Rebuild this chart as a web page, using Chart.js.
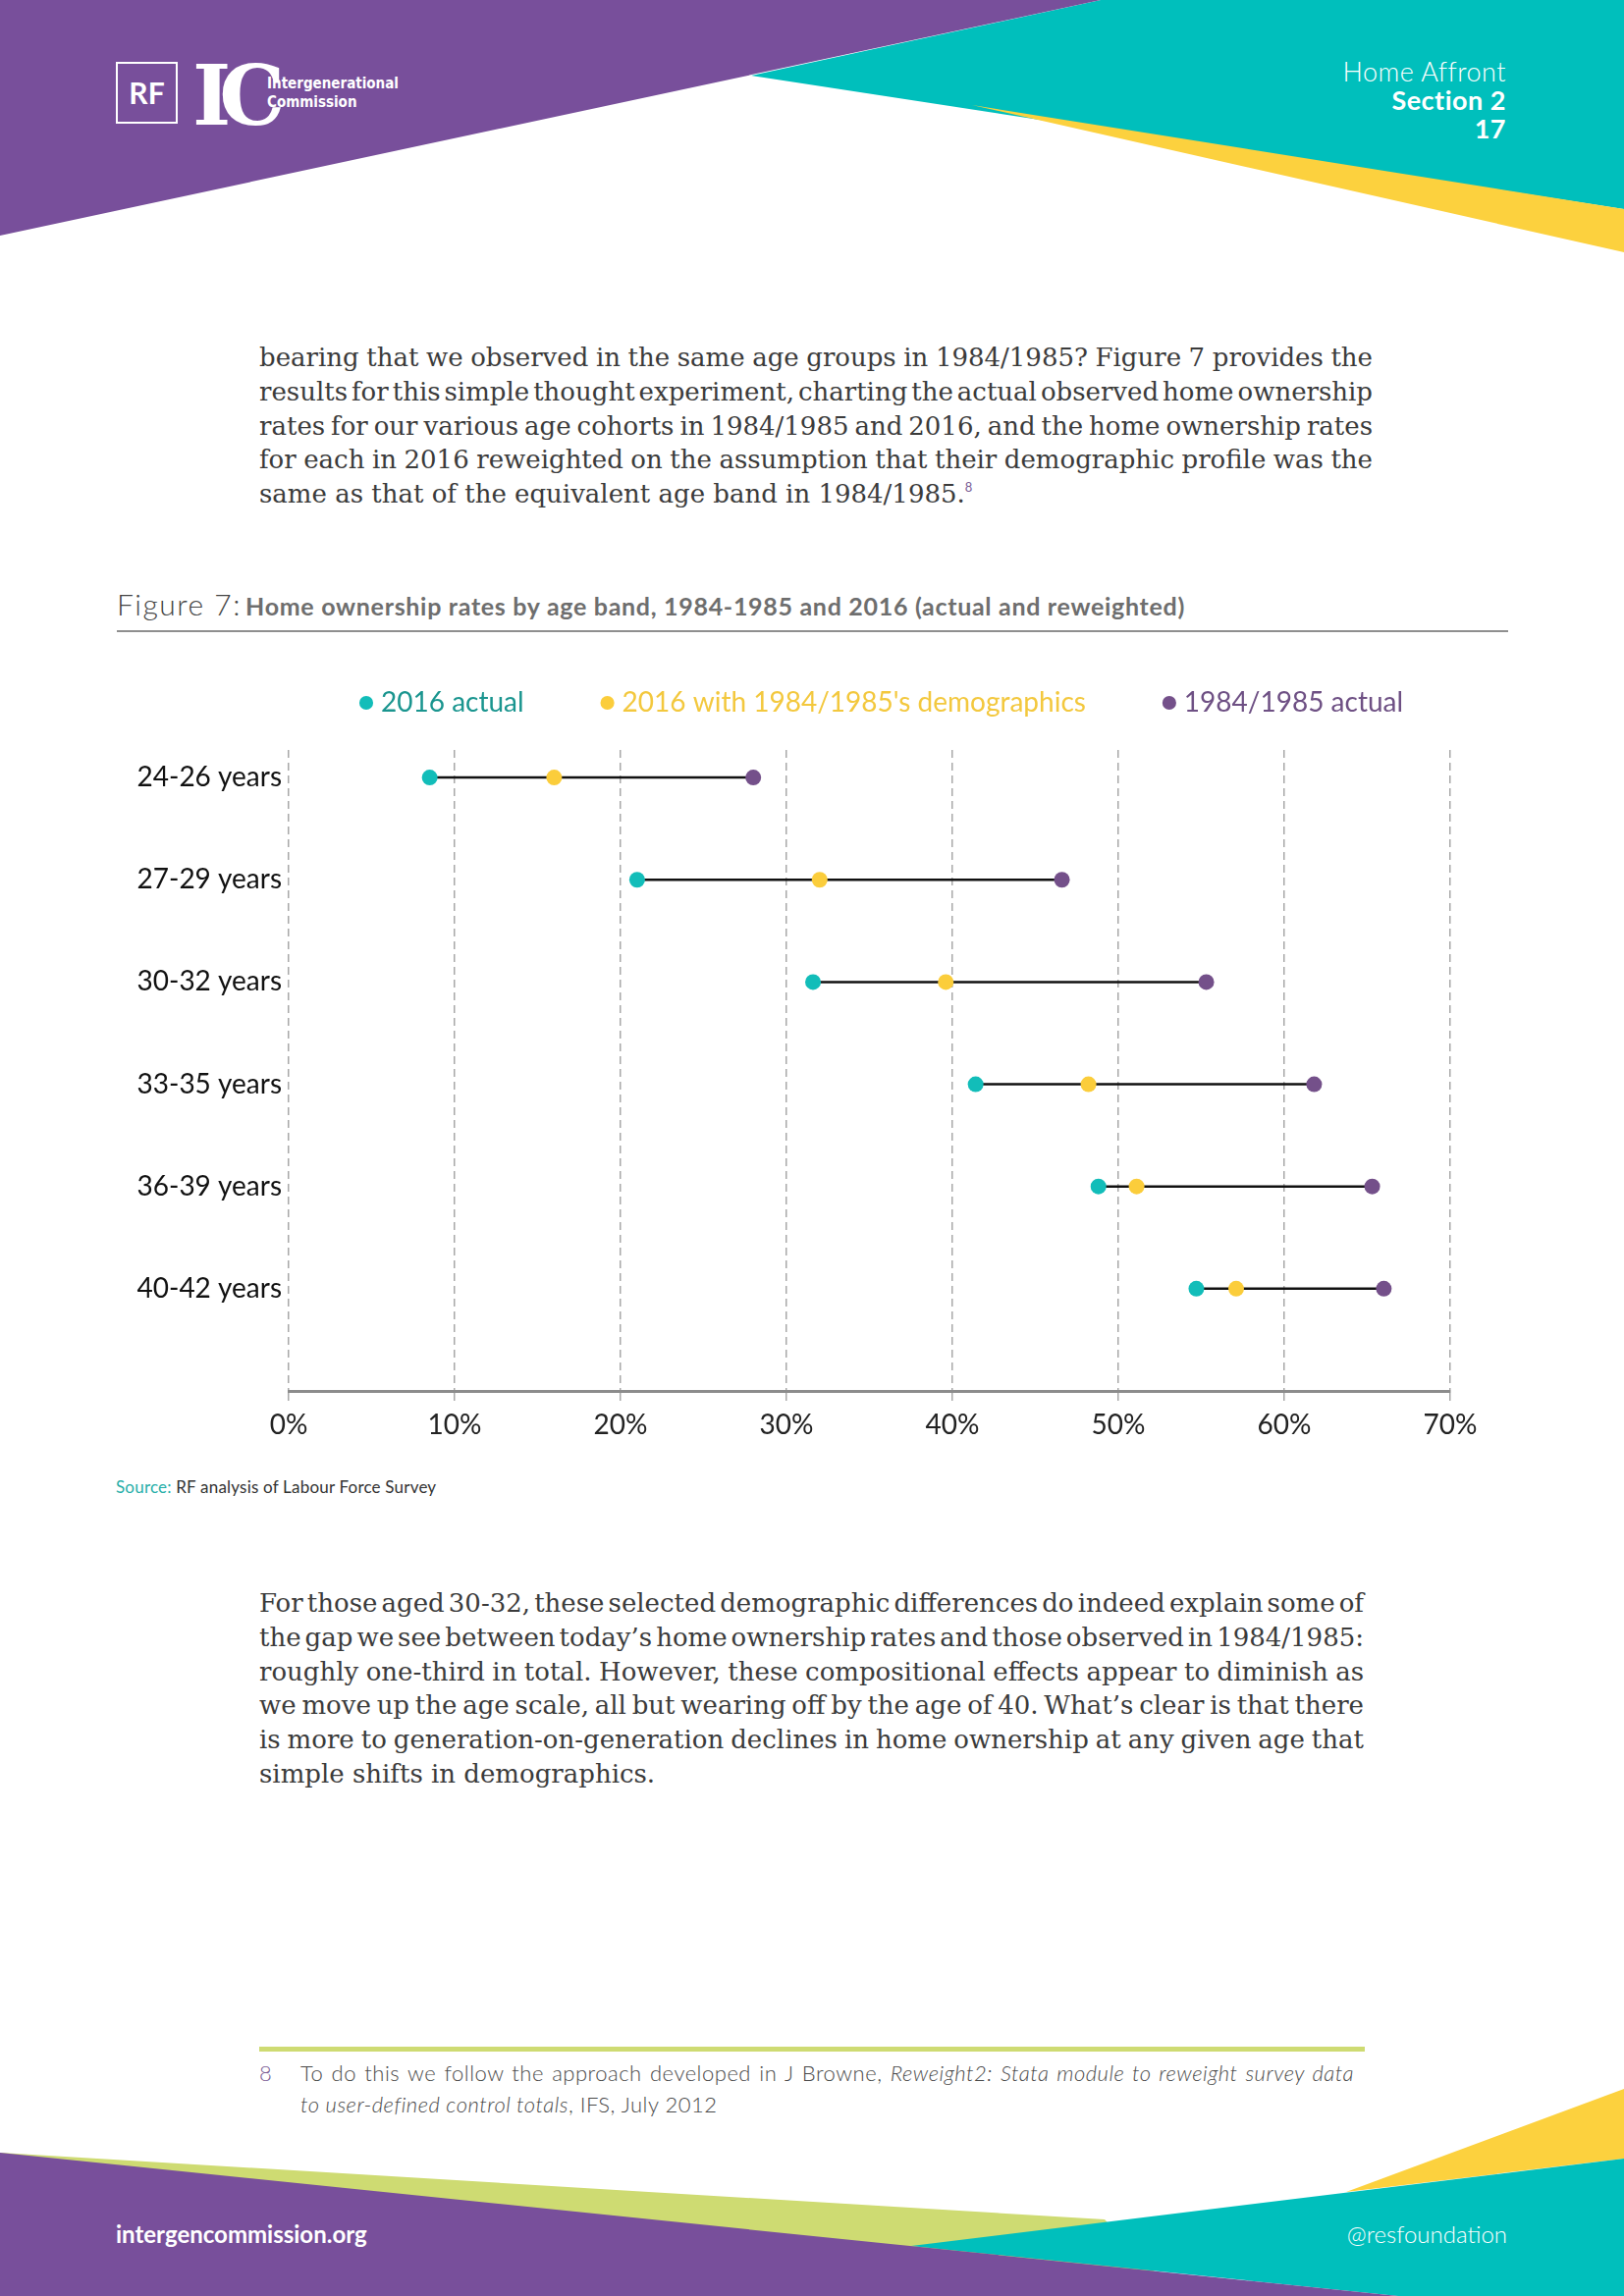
<!DOCTYPE html>
<html lang="en">
<head>
<meta charset="UTF-8">
<title>Home Affront - Figure 7</title>
<script src="https://cdn.jsdelivr.net/npm/chart.js"></script>
<style>
  html, body { margin: 0; padding: 0; }
  body { width: 1654px; height: 2339px; position: relative; overflow: hidden; background: #fff; font-family: Lato, 'Open Sans', sans-serif; }
  .abs { position: absolute; white-space: nowrap; }
  .bodytext { position: absolute; left: 264px; font-family: 'DejaVu Serif', serif; font-size: 26px; line-height: 34.8px; color: #3b3b3b; }
  .jline { display: block; width: max-content; white-space: nowrap; }
  .hdr { right: 120px; text-align: right; color: #fff; font-size: 27px; line-height: 29px; letter-spacing: 0.5px; }
  .foot { font-size: 22px; line-height: 32px; color: #4a4a4a; font-weight: 300; letter-spacing: 0.5px; }
  #chartBox { position: absolute; left: 100px; top: 618px; width: 1460px; height: 859px; }
</style>
</head>
<body>
<svg class="abs" style="left:0;top:0" width="1654" height="2339">
  <polygon points="765,77 1121,0 1654,0 1654,213" fill="#00bfbc"/>
  <polygon points="990,107 1654,213 1654,257" fill="#fcd13e"/>
  <polygon points="0,0 1121,0 0,240" fill="#784f9b"/>
  <polygon points="0,2193 1125,2261 1200,2339 0,2339" fill="#cedb72"/>
  <polygon points="1371,2233 1654,2128 1654,2199" fill="#fcd13e"/>
  <polygon points="928,2288 1654,2199 1654,2339 1424,2339" fill="#00bfbc"/>
  <polygon points="0,2193 1424,2339 0,2339" fill="#784f9b"/>
  <rect x="264" y="2085" width="1126" height="5" fill="#cedb72"/>
</svg>

<!-- logo -->
<div class="abs" style="left:118px;top:63px;width:59px;height:59px;border:2px solid #fff;color:#fff;font-weight:700;font-size:30px;line-height:59px;text-align:center;">RF</div>
<div class="abs" style="left:196px;top:56px;color:#fff;font-family:'DejaVu Serif',serif;font-weight:700;font-size:84px;line-height:84px;letter-spacing:-12px;">IC</div>
<div class="abs" style="left:272px;top:76px;color:#fff;font-family:'DejaVu Sans',sans-serif;font-stretch:condensed;font-weight:700;font-size:15px;line-height:19px;">Intergenerational<br>Commission</div>

<div class="abs hdr" style="top:58px;font-weight:300;">Home Affront</div>
<div class="abs hdr" style="top:87px;font-weight:700;">Section 2</div>
<div class="abs hdr" style="top:116px;font-weight:700;">17</div>

<div class="bodytext" style="top:347px;">
  <div class="jline" data-w="1134">bearing that we observed in the same age groups in 1984/1985? Figure 7 provides the</div>
  <div class="jline" data-w="1134">results for this simple thought experiment, charting the actual observed home ownership</div>
  <div class="jline" data-w="1134">rates for our various age cohorts in 1984/1985 and 2016, and the home ownership rates</div>
  <div class="jline" data-w="1134">for each in 2016 reweighted on the assumption that their demographic profile was the</div>
  <div class="jline">same as that of the equivalent age band in 1984/1985.<span style="position:relative;top:-11px;font-family:Lato,sans-serif;font-size:13px;color:#7a5b95;">8</span></div>
</div>

<div class="abs" style="left:119px;top:600px;line-height:1;">
  <span style="font-weight:300;font-size:30px;letter-spacing:1.5px;color:#444;">Figure 7:</span>
  <span style="font-weight:700;font-size:25px;letter-spacing:0.7px;color:#6e6e6e;">Home ownership rates by age band, 1984-1985 and 2016 (actual and reweighted)</span>
</div>
<div class="abs" style="left:119px;top:642px;width:1417px;height:2px;background:#8f8f8f;"></div>

<div id="chartBox"><canvas id="dumbbell"></canvas></div>

<div class="abs" style="left:118px;top:1506px;font-size:17px;letter-spacing:0.2px;line-height:1;color:#333;"><span style="color:#26aea8;">Source:</span> RF analysis of Labour Force Survey</div>

<div class="bodytext" style="top:1616px;">
  <div class="jline" data-w="1125">For those aged 30-32, these selected demographic differences do indeed explain some of</div>
  <div class="jline" data-w="1125">the gap we see between today’s home ownership rates and those observed in 1984/1985:</div>
  <div class="jline" data-w="1125">roughly one-third in total. However, these compositional effects appear to diminish as</div>
  <div class="jline" data-w="1125">we move up the age scale, all but wearing off by the age of 40. What’s clear is that there</div>
  <div class="jline" data-w="1125">is more to generation-on-generation declines in home ownership at any given age that</div>
  <div class="jline">simple shifts in demographics.</div>
</div>

<div class="abs foot" style="left:264px;top:2096px;color:#7a5b95;">8</div>
<div class="abs foot" style="left:306px;top:2096px;">
  <div class="jline" data-w="1073">To do this we follow the approach developed in J Browne, <i>Reweight2: Stata module to reweight survey data</i></div>
  <div class="jline"><i>to user-defined control totals</i>, IFS, July 2012</div>
</div>

<div class="abs" style="left:118px;top:2264px;color:#fff;font-size:24px;font-weight:700;line-height:1;">intergencommission.org</div>
<div class="abs" style="right:119px;top:2264px;color:#fff;font-size:24px;font-weight:300;line-height:1;">@resfoundation</div>

<script>
// values, in percent
const ageBands = ['24-26 years', '27-29 years', '30-32 years', '33-35 years', '36-39 years', '40-42 years'];
const actual2016 = [8.5, 21.0, 31.6, 41.4, 48.8, 54.7];
const reweighted2016 = [16.0, 32.0, 39.6, 48.2, 51.1, 57.1];
const actual1984 = [28.0, 46.6, 55.3, 61.8, 65.3, 66.0];
const xTickLabels = ['0%', '10%', '20%', '30%', '40%', '50%', '60%', '70%'];

const seriesNames = ['2016 actual', "2016 with 1984/1985's demographics", '1984/1985 actual'];
const seriesColors = ['#12bdb9', '#fbcd3b', '#74508a'];
const legendTextColors = ['#1a958f', '#f3c83e', '#6e5084'];

// stretch the justified text lines to the measured widths
document.querySelectorAll('.jline[data-w]').forEach(el => {
    const natural = el.getBoundingClientRect().width;
    const gaps = (el.textContent.match(/ /g) || []).length;
    if (gaps) el.style.wordSpacing = ((+el.dataset.w - natural) / gaps) + 'px';
});

const toPoints = vals => vals.map((v, i) => ({ x: v, y: i + 1 }));

const datasets = [actual2016, reweighted2016, actual1984].map((vals, k) => ({
    label: seriesNames[k],
    data: toPoints(vals),
    pointRadius: 8,
    pointHoverRadius: 8,
    pointBackgroundColor: seriesColors[k],
    pointBorderWidth: 0,
    showLine: false
}));

// connecting lines, one per age band
ageBands.forEach((band, i) => {
    datasets.push({
        label: band,
        data: [{ x: actual2016[i], y: i + 1 }, { x: actual1984[i], y: i + 1 }],
        showLine: true,
        borderColor: '#111',
        borderWidth: 2.5,
        pointRadius: 0
    });
});

// keep the legend on one row, with a fixed height
const legendRow = {
    id: 'legendRow',
    beforeInit(chart) {
        const fit = chart.legend.fit;
        chart.legend.fit = function () {
            this.maxWidth = this.maxWidth + 400;
            fit.call(this);
            this.height = 146;
        };
    },
    beforeDraw(chart) {
        const lg = chart.legend;
        lg.left = chart.chartArea.left - 6;
        lg.right = lg.left + 1400;
    }
};

new Chart(document.getElementById('dumbbell'), {
    type: 'scatter',
    data: { datasets: datasets },
    plugins: [legendRow],
    options: {
        responsive: true,
        maintainAspectRatio: false,
        animation: false,
        layout: { padding: { right: 83 } },
        plugins: {
            tooltip: { enabled: false },
            legend: {
                position: 'top',
                align: 'start',
                fullSize: false,
                labels: {
                    usePointStyle: true,
                    boxWidth: 2,
                    boxHeight: 10,
                    padding: 84,
                    font: { family: 'Lato', size: 28 },
                    generateLabels: () => seriesNames.map((name, k) => ({
                        text: name,
                        fillStyle: seriesColors[k],
                        strokeStyle: seriesColors[k],
                        fontColor: legendTextColors[k],
                        lineWidth: 0,
                        pointStyle: 'circle',
                        datasetIndex: k
                    }))
                }
            }
        },
        scales: {
            x: {
                type: 'linear',
                min: 0,
                max: 70,
                afterFit: scale => { scale.height = 60; },
                ticks: {
                    stepSize: 10,
                    padding: 7,
                    color: '#222',
                    font: { family: 'Lato', size: 28 },
                    callback: (value, index) => xTickLabels[index]
                },
                grid: {
                    color: '#a8a8a8',
                    lineWidth: 1.5,
                    tickLength: 11,
                    tickColor: '#a8a8a8',
                    tickBorderDash: [8, 5]
                },
                border: { display: true, color: '#8c8c8c', width: 3, dash: [8, 5] }
            },
            y: {
                type: 'linear',
                reverse: true,
                min: 0.73,
                max: 7,
                afterFit: scale => { scale.width = 194; },
                afterBuildTicks: scale => {
                    scale.ticks = ageBands.map((b, i) => ({ value: i + 1 }));
                },
                ticks: {
                    padding: 7,
                    color: '#111',
                    font: { family: 'Lato', size: 28 },
                    callback: value => ageBands[value - 1]
                },
                grid: { display: false, drawTicks: false },
                border: { display: false }
            }
        }
    }
});
</script>
</body>
</html>
